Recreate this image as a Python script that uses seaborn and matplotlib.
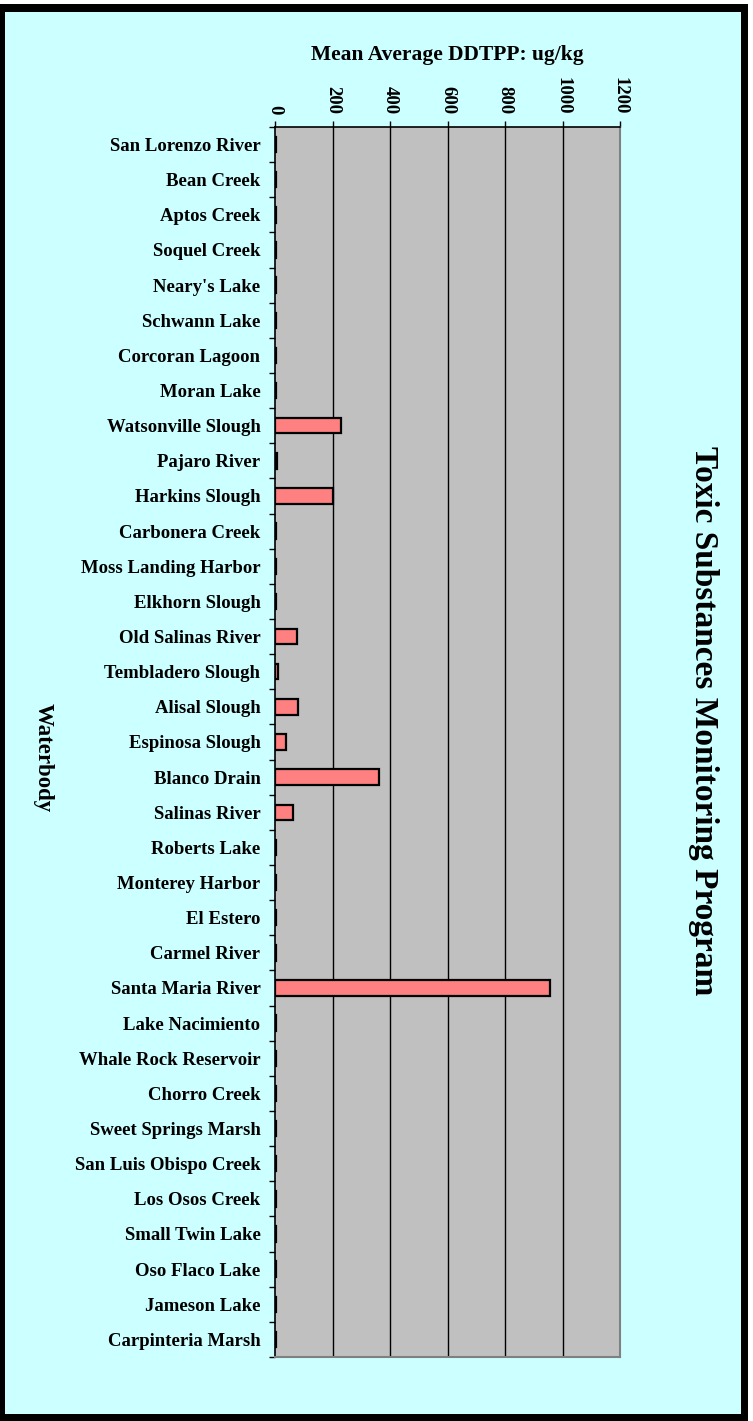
import matplotlib
matplotlib.use("Agg")
import matplotlib.pyplot as plt
from matplotlib.patches import Rectangle
from matplotlib.ticker import FixedLocator
import seaborn as sns
import pandas as pd
import numpy as np

# Waterbodies sampled and their mean DDTPP concentration (ug/kg)
waterbodies = [
    "San Lorenzo River", "Bean Creek", "Aptos Creek", "Soquel Creek",
    "Neary's Lake", "Schwann Lake", "Corcoran Lagoon", "Moran Lake",
    "Watsonville Slough", "Pajaro River", "Harkins Slough", "Carbonera Creek",
    "Moss Landing Harbor", "Elkhorn Slough", "Old Salinas River",
    "Tembladero Slough", "Alisal Slough", "Espinosa Slough", "Blanco Drain",
    "Salinas River", "Roberts Lake", "Monterey Harbor", "El Estero",
    "Carmel River", "Santa Maria River", "Lake Nacimiento",
    "Whale Rock Reservoir", "Chorro Creek", "Sweet Springs Marsh",
    "San Luis Obispo Creek", "Los Osos Creek", "Small Twin Lake",
    "Oso Flaco Lake", "Jameson Lake", "Carpinteria Marsh",
]
ddtpp = [
    3, 3, 3, 3,
    3, 3, 3, 3,
    228, 8, 200, 3,
    3, 3, 78,
    12, 80, 37, 362,
    63, 3, 3, 3,
    3, 958, 3,
    3, 3, 3,
    3, 3, 3,
    3, 3, 3,
]
x_ticks = [0, 200, 400, 600, 800, 1000, 1200]

df = pd.DataFrame({"Waterbody": waterbodies, "DDTPP": ddtpp})

sns.set_theme(style="white")
plt.rcParams["font.family"] = ["Liberation Serif", "DejaVu Serif"]
plt.rcParams["font.weight"] = "bold"
plt.rcParams["text.color"] = "black"
plt.rcParams["axes.labelcolor"] = "black"
plt.rcParams["xtick.color"] = "black"
plt.rcParams["ytick.color"] = "black"

W, H = 753, 1421
fig = plt.figure(figsize=(W / 100, H / 100), dpi=100)
fig.patch.set_facecolor("#CCFFFF")


def px_rect(x0, y0, x1, y1, color):
    """Filled rectangle given in pixel coordinates measured from the top-left."""
    fig.patches.append(Rectangle((x0 / W, 1 - y1 / H), (x1 - x0) / W, (y1 - y0) / H,
                                 transform=fig.transFigure, facecolor=color,
                                 edgecolor="none", zorder=10))


# outer margin and heavy black frame
px_rect(0, 0, W, 4, "white")
px_rect(748, 0, W, H, "white")
px_rect(0, 4, 748, 12, "black")
px_rect(0, 4, 5, H, "black")
px_rect(741, 4, 748, H, "black")
px_rect(0, 1414, 748, H, "black")

ax = fig.add_axes([275 / W, 1 - 1357 / H, 345 / W, (1357 - 127) / H])
ax.set_facecolor("#C0C0C0")

sns.barplot(data=df, x="DDTPP", y="Waterbody", orient="h", color="#FF8080",
            saturation=1, edgecolor="black", linewidth=1.6, width=0.44, ax=ax, zorder=3)

ax.set_xlim(0, 1200)
ax.set_ylim(len(waterbodies) - 0.5, -0.5)

# x axis along the top, labels turned sideways
ax.xaxis.tick_top()
ax.xaxis.set_label_position("top")
ax.set_xticks(x_ticks)
ax.set_xticklabels([str(t) for t in x_ticks], rotation=-90, fontsize=13.5,
                   fontweight="bold", va="bottom", ha="center")
ax.tick_params(axis="x", which="major", top=True, bottom=False, length=4,
               width=1, color="black", pad=5, direction="out")
ax.set_xlabel("Mean Average DDTPP: ug/kg", fontsize=15.5, fontweight="bold", labelpad=12)

# vertical gridlines
for t in x_ticks[1:-1]:
    ax.axvline(t, color="black", linewidth=1.0, zorder=1)

# category labels with tick marks between categories
ax.set_ylabel("")
ax.tick_params(axis="y", which="major", length=0, pad=10.5, labelsize=13.5)
for lbl in ax.get_yticklabels():
    lbl.set_fontweight("bold")
ax.yaxis.set_minor_locator(FixedLocator(np.arange(-0.5, len(waterbodies), 1.0)))
ax.tick_params(axis="y", which="minor", left=True, length=4, width=1,
               color="black", direction="out")

for side in ["left", "top"]:
    ax.spines[side].set_visible(True)
    ax.spines[side].set_color("black")
    ax.spines[side].set_linewidth(1.2)
for side in ["right", "bottom"]:
    ax.spines[side].set_visible(True)
    ax.spines[side].set_color("#808080")
    ax.spines[side].set_linewidth(1.5)

fig.text(43 / W, 1 - 758 / H, "Waterbody", rotation=-90, fontsize=16.5,
         fontweight="bold", ha="center", va="center")
fig.text(704 / W, 1 - 721 / H, "Toxic Substances Monitoring Program", rotation=-90,
         fontsize=24, fontweight="bold", ha="center", va="center")

fig.savefig("out.png", dpi=100, facecolor=fig.get_facecolor())
